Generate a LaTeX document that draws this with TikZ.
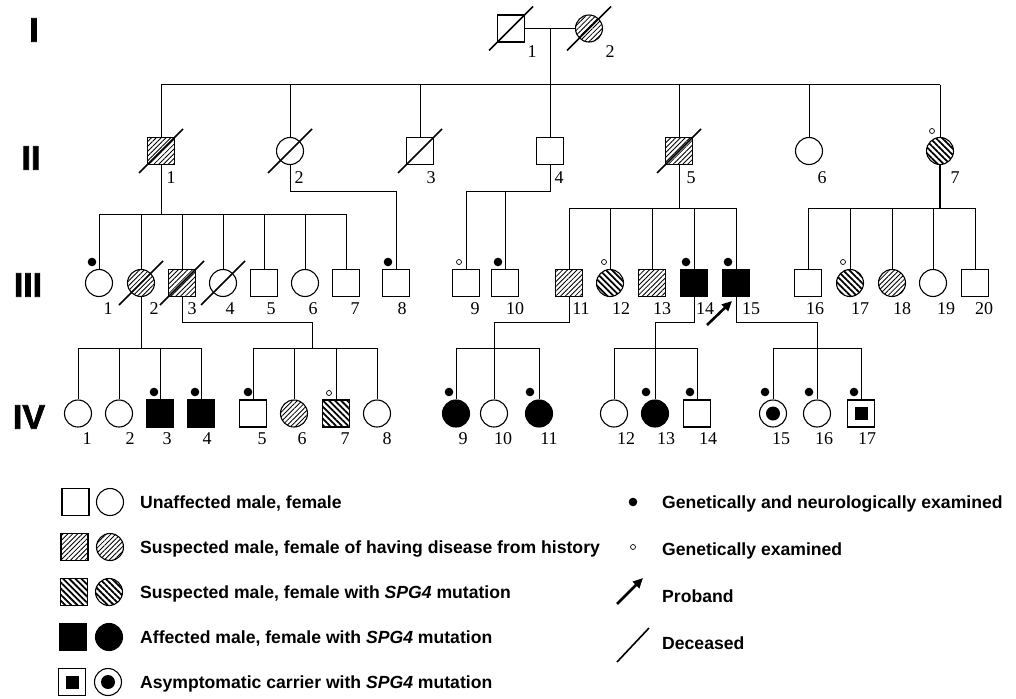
\documentclass[tikz,border=0pt]{standalone}
\usepackage{fontspec}
\setmainfont{Liberation Serif}
\newfontfamily\legfont{Liberation Sans}
\newfontfamily\genfont[FakeBold=2]{Liberation Sans Bold}
\usetikzlibrary{patterns.meta,arrows.meta,calc}
\tikzset{
  male/.style={draw, rectangle, minimum size=27pt, inner sep=0pt, line width=1.1pt},
  female/.style={draw, circle, minimum size=27pt, inner sep=0pt, line width=1.1pt},
  hist/.style={pattern={Lines[angle=45,distance=3.4pt,line width=0.85pt]}},
  mut/.style={pattern={Lines[angle=-45,distance=4.3pt,line width=1.8pt]}},
  aff/.style={fill=black},
  lbl/.style={font=\fontsize{18}{20}\selectfont, inner sep=0pt},
  gen/.style={font=\genfont\fontsize{34}{36}\selectfont, inner sep=0pt},
  leg/.style={font=\legfont\bfseries\fontsize{17.6}{20}\selectfont, anchor=base west, inner sep=0pt},
  gdot/.style={circle, fill=black, minimum size=8.6pt, inner sep=0pt},
  odot/.style={circle, draw, line width=0.7pt, minimum size=5pt, inner sep=0pt},
  dec/.style={line width=1.6pt},
  proband/.style={line width=2.6pt, -{Triangle[length=10pt,width=9pt]}},
  conn/.style={line width=1pt},
}
\newcommand\Msym[4]{\node[male,#4] (#1) at (#2,#3) {};}
\newcommand\Fsym[4]{\node[female,#4] (#1) at (#2,#3) {};}
\newcommand\Lab[4]{\node[lbl] (#1) at (#2,#3) {#4};}
\newcommand\Dec[1]{\draw[dec] ($(#1)+(-22,22)$) -- ($(#1)+(22,-22)$);}
\begin{document}
\begin{tikzpicture}[x=1pt,y=-1pt]
\fill[white] (0,0) rectangle (1016,698);
\useasboundingbox (0,0) rectangle (1016,698);

% generation labels
\node[gen] (gI) at (34,30) {I};
\node[gen] (gII) at (31,158) {II};
\node[gen] (gIII) at (28,285) {III};
\node[gen] (gIV) at (29,417) {IV};

% Generation I
\Msym{I1}{511}{28.5}{}
\Fsym{I2}{589}{28.5}{hist}
% Generation II
\Msym{II1}{161}{151}{hist}
\Fsym{II2}{290}{151}{}
\Msym{II3}{420}{151}{}
\Msym{II4}{550}{151}{}
\Msym{II5}{679}{151}{hist}
\Fsym{II6}{809}{151}{}
\Fsym{II7}{940}{151}{mut}
% Generation III
\Fsym{III1}{99}{283}{}
\Fsym{III2}{141}{283}{hist}
\Msym{III3}{182}{283}{hist}
\Fsym{III4}{223}{283}{}
\Msym{III5}{264}{283}{}
\Fsym{III6}{305}{283}{}
\Msym{III7}{346}{283}{}
\Msym{III8}{396}{283}{}
\Msym{III9}{466}{283}{}
\Msym{III10}{505}{283}{}
\Msym{III11}{569}{283}{hist}
\Fsym{III12}{610}{283}{mut}
\Msym{III13}{652}{283}{hist}
\Msym{III14}{694}{283}{aff}
\Msym{III15}{736}{283}{aff}
\Msym{III16}{808}{283}{}
\Fsym{III17}{850}{283}{mut}
\Fsym{III18}{892}{283}{hist}
\Fsym{III19}{933}{283}{}
\Msym{III20}{975}{283}{}
% Generation IV
\Fsym{IV1}{78}{413.5}{}
\Fsym{IV2}{119}{413.5}{}
\Msym{IV3}{160}{413.5}{aff}
\Msym{IV4}{201}{413.5}{aff}
\Msym{IV5}{253}{413.5}{}
\Fsym{IV6}{294}{413.5}{hist}
\Msym{IV7}{336}{413.5}{mut}
\Fsym{IV8}{377}{413.5}{}
\Fsym{IV9}{456}{413.5}{aff}
\Fsym{IV10}{494}{413.5}{}
\Fsym{IV11}{539}{413.5}{aff}
\Fsym{IV12}{614}{413.5}{}
\Fsym{IV13}{655}{413.5}{aff}
\Msym{IV14}{697}{413.5}{}
\Fsym{IV15}{773}{413.5}{}
\Fsym{IV16}{817}{413.5}{}
\Msym{IV17}{861}{413.5}{}
\node[circle, fill=black, minimum size=14pt, inner sep=0pt] (IV15i) at (IV15) {};
\node[rectangle, fill=black, minimum size=13pt, inner sep=0pt] (IV17i) at (IV17) {};

% deceased
\Dec{I1}\Dec{I2}\Dec{II1}\Dec{II2}\Dec{II3}\Dec{II5}\Dec{III2}\Dec{III3}\Dec{III4}

% connectors
\begin{scope}[conn]
\draw (I1) -- (I2);
\coordinate (mI) at (550,28.5);
\draw (mI) -- (II4);
\coordinate (s2a) at (161,85); \coordinate (s2b) at (940,85);
\draw (s2a) -- (s2b);
\foreach \n in {II1,II2,II3,II5,II6,II7} \draw (\n |- s2a) -- (\n);
% II1
\coordinate (s3a) at (99,214); \coordinate (s3b) at (346,214);
\draw (II1) -- (II1 |- s3a);
\draw (s3a) -- (s3b);
\foreach \n in {III1,III2,III3,III4,III5,III6,III7} \draw (\n |- s3a) -- (\n);
% II2
\coordinate (j22) at (290,191);
\draw (II2) -- (j22) -| (III8);
% II4
\coordinate (j4) at (550,191);
\draw (II4) -- (j4) -| (III9);
\draw (III10 |- j4) -- (III10);
% II5
\coordinate (s5a) at (569,208); \coordinate (s5b) at (736,208);
\draw (II5) -- (II5 |- s5a);
\draw (s5a) -- (s5b);
\foreach \n in {III11,III12,III13,III14,III15} \draw (\n |- s5a) -- (\n);
% II7
\coordinate (s7a) at (808,208); \coordinate (s7b) at (975,208);
\draw[line width=1.4pt] (II7) -- (II7 |- s7a);
\draw (s7a) -- (s7b);
\foreach \n in {III16,III17,III18,III19,III20} \draw (\n |- s7a) -- (\n);
% III2
\coordinate (t2a) at (78,348); \coordinate (t2b) at (201,348);
\draw (III2) -- (III2 |- t2a);
\draw (t2a) -- (t2b);
\foreach \n in {IV1,IV2,IV3,IV4} \draw (\n |- t2a) -- (\n);
% III3
\coordinate (j33) at (182,322); \coordinate (t3m) at (312,348);
\coordinate (t3a) at (253,348); \coordinate (t3b) at (377,348);
\draw (III3) -- (j33) -| (t3m);
\draw (t3a) -- (t3b);
\foreach \n in {IV5,IV6,IV7,IV8} \draw (\n |- t3a) -- (\n);
% III11
\coordinate (j11) at (569,322);
\coordinate (t11a) at (456,348); \coordinate (t11b) at (539,348);
\draw (III11) -- (j11) -| (IV10);
\draw (t11a) -- (t11b);
\foreach \n in {IV9,IV11} \draw (\n |- t11a) -- (\n);
% III14
\coordinate (j14) at (694,322);
\coordinate (t14a) at (614,348); \coordinate (t14b) at (697,348);
\draw (III14) -- (j14) -| (IV13);
\draw (t14a) -- (t14b);
\foreach \n in {IV12,IV14} \draw (\n |- t14a) -- (\n);
% III15
\coordinate (j15) at (736,322);
\coordinate (t15a) at (773,348); \coordinate (t15b) at (861,348);
\draw (III15) -- (j15) -| (IV16);
\draw (t15a) -- (t15b);
\foreach \n in {IV15,IV17} \draw (\n |- t15a) -- (\n);
\end{scope}

% proband arrow
\coordinate (pa) at (707,325); \coordinate (pb) at (732,301);
\draw[proband] (pa) -- (pb);

% examination marks
\node[odot] (eII7) at (932,131) {};
\node[gdot] (eIII1) at (92,262) {};
\node[gdot] (eIII8) at (388,262) {};
\node[odot] (eIII9) at (459,262) {};
\node[gdot] (eIII10) at (498,262) {};
\node[odot] (eIII12) at (604,262) {};
\node[gdot] (eIII14) at (686,262) {};
\node[gdot] (eIII15) at (728,262) {};
\node[odot] (eIII17) at (843,262) {};
\node[gdot] (eIV3) at (154,392) {};
\node[gdot] (eIV4) at (195,392) {};
\node[gdot] (eIV5) at (248,392) {};
\node[odot] (eIV7) at (329,393) {};
\node[gdot] (eIV9) at (449,392) {};
\node[gdot] (eIV11) at (530,392) {};
\node[gdot] (eIV13) at (646,392) {};
\node[gdot] (eIV14) at (690,392) {};
\node[gdot] (eIV15) at (765,392) {};
\node[gdot] (eIV16) at (809,392) {};
\node[gdot] (eIV17) at (854,392) {};

% number labels
\Lab{nI1}{532}{52}{1}\Lab{nI2}{610}{52}{2}
\Lab{nII1}{171}{178}{1}\Lab{nII2}{299}{178}{2}\Lab{nII3}{431}{178}{3}
\Lab{nII4}{559}{178}{4}\Lab{nII5}{691}{178}{5}\Lab{nII6}{822}{178}{6}\Lab{nII7}{955}{178}{7}
\Lab{nIII1}{108}{309}{1}\Lab{nIII2}{154}{309}{2}\Lab{nIII3}{192}{309}{3}
\Lab{nIII4}{230}{309}{4}\Lab{nIII5}{271}{309}{5}\Lab{nIII6}{313}{309}{6}
\Lab{nIII7}{355}{309}{7}\Lab{nIII8}{402}{309}{8}\Lab{nIII9}{475}{309}{9}
\Lab{nIII10}{515}{309}{10}\Lab{nIII11}{581}{309}{11}\Lab{nIII12}{621}{309}{12}
\Lab{nIII13}{662}{309}{13}\Lab{nIII14}{705}{309}{14}\Lab{nIII15}{751}{309}{15}
\Lab{nIII16}{815}{309}{16}\Lab{nIII17}{860}{309}{17}\Lab{nIII18}{902}{309}{18}
\Lab{nIII19}{946}{309}{19}\Lab{nIII20}{984}{309}{20}
\Lab{nIV1}{87}{439}{1}\Lab{nIV2}{130}{439}{2}\Lab{nIV3}{167}{439}{3}
\Lab{nIV4}{207}{439}{4}\Lab{nIV5}{262}{439}{5}\Lab{nIV6}{302}{439}{6}
\Lab{nIV7}{345}{439}{7}\Lab{nIV8}{387}{439}{8}\Lab{nIV9}{463}{439}{9}
\Lab{nIV10}{503}{439}{10}\Lab{nIV11}{549}{439}{11}\Lab{nIV12}{626}{439}{12}
\Lab{nIV13}{666}{439}{13}\Lab{nIV14}{708}{439}{14}\Lab{nIV15}{781}{439}{15}
\Lab{nIV16}{824}{439}{16}\Lab{nIV17}{867}{439}{17}

% legend left
\Msym{LM1}{75.5}{502}{}
\Fsym{LF1}{110}{502}{}
\node[leg] (LT1) at (140,508.5) {Unaffected male, female};
\Msym{LM2}{74.5}{547}{hist}
\Fsym{LF2}{110}{547}{hist}
\node[leg] (LT2) at (140,553.5) {Suspected male, female of having disease from history};
\Msym{LM3}{74}{592}{mut}
\Fsym{LF3}{109}{592}{mut}
\node[leg] (LT3) at (140,598.5) {Suspected male, female with \textit{SPG4} mutation};
\Msym{LM4}{73}{637}{aff}
\Fsym{LF4}{109}{637}{aff}
\node[leg] (LT4) at (140,643.5) {Affected male, female with \textit{SPG4} mutation};
\Msym{LM5}{72}{682}{}
\Fsym{LF5}{108}{682}{}
\node[rectangle, fill=black, minimum size=13pt, inner sep=0pt] (LM5i) at (LM5) {};
\node[circle, fill=black, minimum size=14pt, inner sep=0pt] (LF5i) at (LF5) {};
\node[leg] (LT5) at (140,688.5) {Asymptomatic carrier with \textit{SPG4} mutation};

% legend right
\node[gdot] (LGd) at (633,502) {};
\node[leg] (LT6) at (662,508.5) {Genetically and neurologically examined};
\node[odot] (LGo) at (633,547) {};
\node[leg] (LT7) at (662,555) {Genetically examined};
\coordinate (lpa) at (617,604); \coordinate (lpb) at (643,578);
\draw[proband] (lpa) -- (lpb);
\node[leg] (LT8) at (662,602) {Proband};
\coordinate (lda) at (617,662); \coordinate (ldb) at (649,628);
\draw[dec] (lda) -- (ldb);
\node[leg] (LT9) at (662,649) {Deceased};
\end{tikzpicture}
\end{document}
